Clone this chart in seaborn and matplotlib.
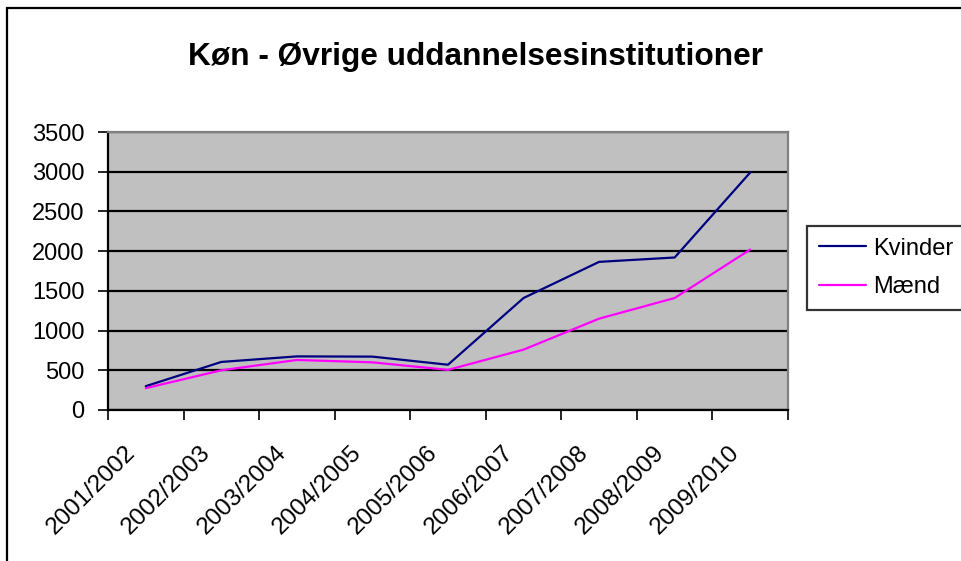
import matplotlib
matplotlib.use("Agg")
import matplotlib.pyplot as plt
import matplotlib.patches as mpatches
import matplotlib.transforms as mtransforms
import seaborn as sns
import numpy as np
import pandas as pd

# values
years = ["2001/2002", "2002/2003", "2003/2004", "2004/2005", "2005/2006",
         "2006/2007", "2007/2008", "2008/2009", "2009/2010"]
kvinder = [300, 605, 675, 672, 570, 1410, 1865, 1920, 2990]
maend = [275, 500, 630, 600, 505, 760, 1150, 1410, 2020]
series_names = ["Kvinder", "Mænd"]
colors = {"Kvinder": "#000080", "Mænd": "#FF00FF"}

df = pd.DataFrame({
    "År": years * 2,
    "Antal": kvinder + maend,
    "Køn": ["Kvinder"] * len(years) + ["Mænd"] * len(years),
})

sns.set_style("white")
plt.rcParams["font.family"] = ["Liberation Sans", "DejaVu Sans"]
plt.rcParams["text.color"] = "black"
plt.rcParams["xtick.color"] = "black"
plt.rcParams["ytick.color"] = "black"
plt.rcParams["axes.labelcolor"] = "black"

W, H = 961, 561
fig = plt.figure(figsize=(W / 100, H / 100), dpi=100)

# outer chart border (cropped at right and bottom like the source)
fig.patches.append(mpatches.Rectangle((7 / W, -0.2), 1.2, 1.2 - 8 / H,
                                      transform=fig.transFigure, fill=False,
                                      edgecolor="black", linewidth=1.6))

ax = fig.add_axes([108 / W, (H - 410) / H, 680 / W, 278 / H])
ax.set_facecolor("#C0C0C0")

sns.lineplot(data=df, x="År", y="Antal", hue="Køn", palette=colors,
             linewidth=1.6, ax=ax, legend=False, sort=False)

ax.set_xlim(-0.5, len(years) - 0.5)
ax.set_ylim(0, 3500)
ax.set_yticks(np.arange(0, 3501, 500))
ax.yaxis.grid(True, color="black", linewidth=1.6)
ax.set_axisbelow(True)

ax.set_xticks(np.arange(len(years)))
ax.set_xticklabels(years, rotation=45, ha="right", va="center",
                   rotation_mode="anchor", fontsize=17.5)
ax.set_xticks(np.arange(-0.5, len(years)), minor=True)
ax.tick_params(axis="x", which="major", length=0, pad=28)
ax.tick_params(axis="x", which="minor", length=7, width=1.2, direction="out",
               color="black", bottom=True)
ax.tick_params(axis="y", length=7, width=1.2, direction="out", color="black",
               left=True, labelsize=17, pad=10)

shift = mtransforms.ScaledTranslation(-0.14, 0, fig.dpi_scale_trans)
for lab in ax.get_xticklabels():
    lab.set_transform(lab.get_transform() + shift)

ax.set_xlabel("")
ax.set_ylabel("")
for side in ["left", "bottom"]:
    ax.spines[side].set_color("black")
    ax.spines[side].set_linewidth(1.6)
for side in ["top", "right"]:
    ax.spines[side].set_color("#808080")
    ax.spines[side].set_linewidth(1.6)

fig.text(475 / W, 1 - 57 / H, "Køn - Øvrige uddannelsesinstitutioner",
         ha="center", va="center", fontsize=22.8, fontweight="bold")

handles = [plt.Line2D([], [], color=colors[n], linewidth=1.6) for n in series_names]
leg = fig.legend(handles, series_names, loc="center left",
                 bbox_to_anchor=(807 / W, 1 - 268 / H), fontsize=17,
                 frameon=True, fancybox=False, edgecolor="black",
                 handlelength=2.0, handletextpad=0.3, borderpad=0.5,
                 labelspacing=0.7, borderaxespad=0)
leg.get_frame().set_linewidth(1.6)

fig.savefig("out.png", dpi=100)
